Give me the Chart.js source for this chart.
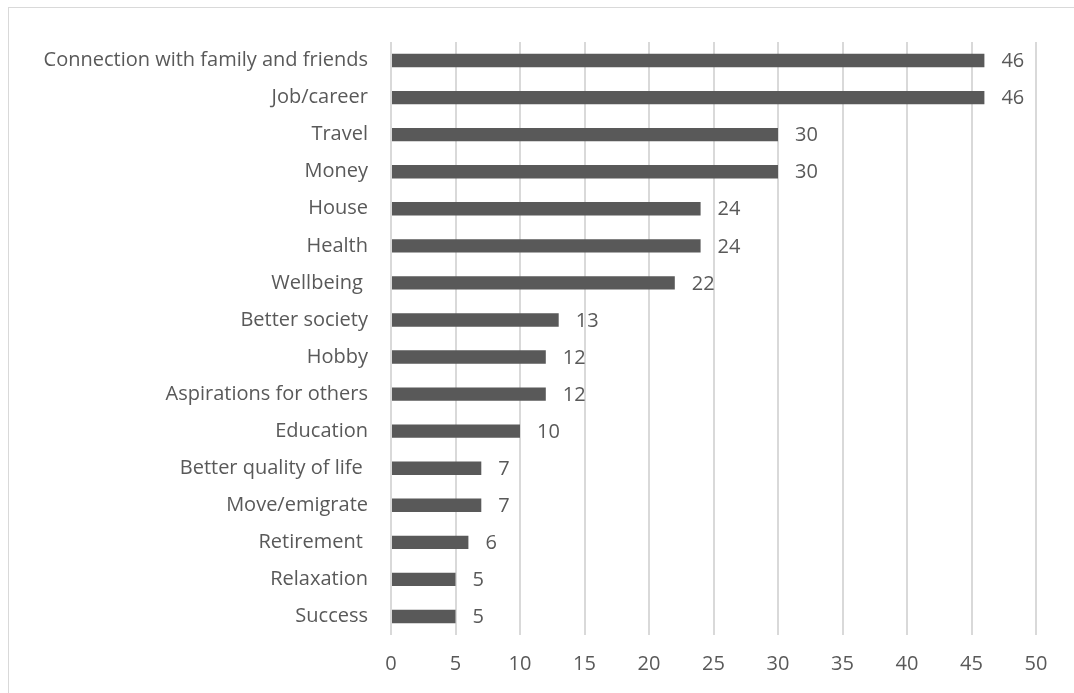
<!DOCTYPE html>
<html>
<head>
<meta charset="utf-8">
<script src="https://cdn.jsdelivr.net/npm/chart.js@4"></script>
<style>
  html, body { margin: 0; padding: 0; background: #fff; }
  #wrap { position: relative; width: 1074px; height: 693px; }
  #frame { position: absolute; left: 8px; top: 7px; width: 1100px; height: 720px; border: 1px solid #d9d9d9; pointer-events: none; }
</style>
</head>
<body>
<div id="wrap">
  <canvas id="aspChart" width="1074" height="693"></canvas>
  <div id="frame"></div>
</div>
<script>
const categories = [
  "Connection with family and friends", "Job/career", "Travel", "Money", "House",
  "Health", "Wellbeing ", "Better society", "Hobby", "Aspirations for others",
  "Education", "Better quality of life ", "Move/emigrate", "Retirement ",
  "Relaxation", "Success"
];
const counts = [46, 46, 30, 30, 24, 24, 22, 13, 12, 12, 10, 7, 7, 6, 5, 5];
const xTicks = [0, 5, 10, 15, 20, 25, 30, 35, 40, 45, 50];

const textColor = "#595959";
const fontFamily = "'Open Sans', sans-serif";
const fontSize = 20;

// draws the value next to the end of each bar
const valueLabels = {
  id: "valueLabels",
  afterDatasetsDraw(chart) {
    const ctx = chart.ctx;
    const meta = chart.getDatasetMeta(0);
    ctx.save();
    ctx.fillStyle = textColor;
    ctx.font = fontSize + "px " + fontFamily;
    ctx.textAlign = "left";
    ctx.textBaseline = "middle";
    meta.data.forEach((bar, i) => {
      ctx.fillText(String(chart.data.datasets[0].data[i]), bar.x + 17, bar.y + 1);
    });
    ctx.restore();
  }
};

const ctx = document.getElementById("aspChart").getContext("2d");
new Chart(ctx, {
  type: "bar",
  data: {
    labels: categories,
    datasets: [{
      data: counts,
      backgroundColor: "#595959",
      barPercentage: 0.36,
      categoryPercentage: 1.0
    }]
  },
  options: {
    indexAxis: "y",
    responsive: false,
    animation: false,
    layout: { padding: { left: 0, right: 38, top: 42, bottom: 0 } },
    plugins: { legend: { display: false }, tooltip: { enabled: false } },
    scales: {
      x: {
        min: 0,
        max: 50,
        afterBuildTicks: (scale) => { scale.ticks = xTicks.map(v => ({ value: v })); },
        afterFit: (scale) => { scale.height = 58; },
        grid: { color: "#d9d9d9", lineWidth: 2, drawTicks: false },
        border: { display: false },
        ticks: { color: textColor, font: { family: fontFamily, size: fontSize }, padding: 17 }
      },
      y: {
        afterFit: (scale) => { scale.width = 391; },
        grid: { display: false, drawTicks: false },
        border: { display: false },
        ticks: { color: textColor, font: { family: fontFamily, size: fontSize }, padding: 23, autoSkip: false }
      }
    }
  },
  plugins: [valueLabels]
});
</script>
</body>
</html>
